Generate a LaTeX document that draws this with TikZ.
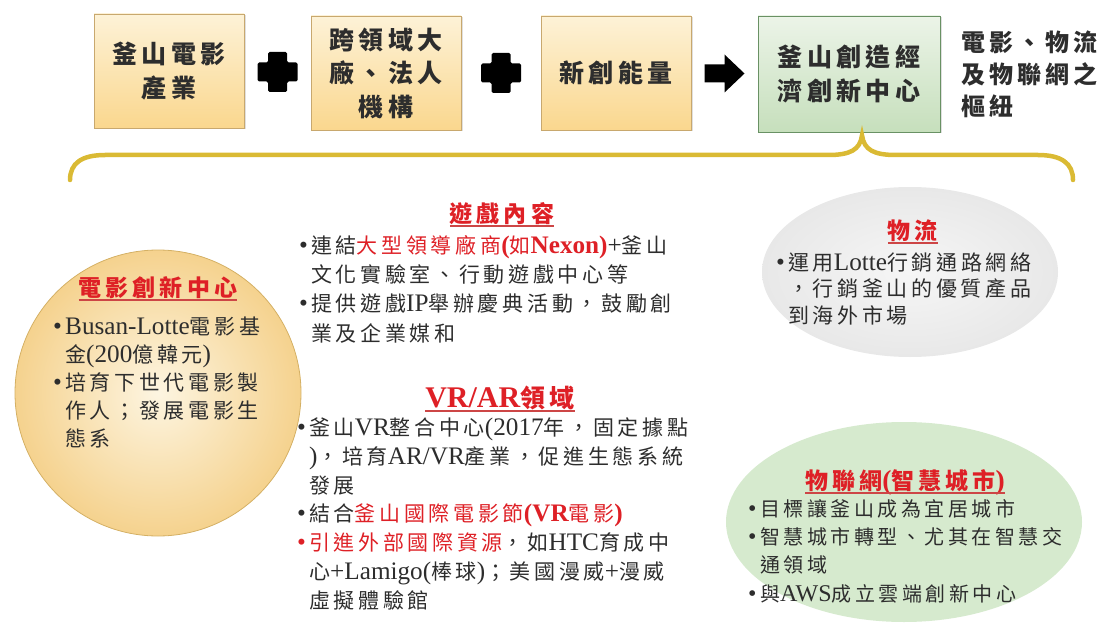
\documentclass[tikz,border=0pt]{standalone}
\usepackage{fontspec}
\setmainfont{Noto Sans CJK TC}[LetterSpace=17.5]
\newfontfamily\lat{Liberation Serif}[Scale=1.2]
\usetikzlibrary{shadows,shapes.geometric,calc}
\definecolor{txt}{RGB}{45,45,45}
\definecolor{red1}{RGB}{222,32,38}
\definecolor{ulred}{RGB}{205,70,70}
\definecolor{boxtop}{RGB}{253,242,215}
\definecolor{boxbot}{RGB}{250,215,142}
\definecolor{boxdraw}{RGB}{200,168,110}
\definecolor{gtop}{RGB}{236,244,232}
\definecolor{gbot}{RGB}{198,223,188}
\definecolor{gdraw}{RGB}{105,145,100}
\definecolor{bracecol}{RGB}{218,186,52}
\definecolor{circin}{RGB}{253,245,225}
\definecolor{circout}{RGB}{245,210,142}
\definecolor{circdraw}{RGB}{212,176,100}
\definecolor{grayin}{RGB}{246,246,246}
\definecolor{grayout}{RGB}{232,232,232}
\definecolor{greenell}{RGB}{214,234,206}
\newcommand\bl{\makebox[12pt][l]{\lat •}}
\newcommand\ind{\hspace*{12pt}}
\tikzset{
  topbox/.style={draw=boxdraw, line width=0.8pt, top color=boxtop, bottom color=boxbot,
    minimum width=150pt, minimum height=114pt, inner sep=0pt, align=center, text=txt,
    font=\fontsize{25}{33.5}\selectfont\bfseries,
    drop shadow={shadow xshift=1.5pt,shadow yshift=-1.5pt,opacity=0.25}},
  greenbox/.style={topbox, draw=gdraw, top color=gtop, bottom color=gbot, minimum width=182pt},
  ttl/.style={anchor=base, inner sep=0pt, text=red1, font=\fontsize{23}{28}\selectfont\bfseries},
  bodytxt/.style={anchor=base west, inner sep=0pt, align=left, text=txt, font=\fontsize{21}{29}\selectfont},
  ul/.style={draw=ulred, line width=1.3pt},
  plussign/.style={fill=black, rounded corners=1.5pt},
  bracestyle/.style={draw=bracecol, line width=4.5pt, line cap=round},
}
\begin{document}
\begin{tikzpicture}[x=1pt,y=-1pt]
\useasboundingbox (0,0) rectangle (1103,623);
% ---------- top row ----------
\node[topbox] (b1) at (169,71) {釜山電影\\產業};
\node[topbox] (b2) at (386,73) {跨領域大\\廠、法人\\機構};
\node[topbox] (b3) at (616,73) {新創能量};
\node[greenbox, minimum height=116pt] (b4) at (849,74) {釜山創造經\\濟創新中心};
\node[anchor=base west, inner sep=0pt, align=left, text=txt,
  font=\fontsize{24}{32}\selectfont\bfseries] (hub) at (961,116) {電影、物流\\及物聯網之\\樞紐};
\coordinate (p1) at ($(b1.east)!0.5!(b2.west)$);
\coordinate (p2) at ($(b2.east)!0.5!(b3.west)$);
\coordinate (a1) at ($(b3.east)!0.5!(b4.west)$);
\foreach \p in {p1,p2}{
  \fill[plussign] (\p) ++(-9.5,-20) -- ++(19,0) -- ++(0,10.5) -- ++(10.5,0) -- ++(0,19) -- ++(-10.5,0)
     -- ++(0,10.5) -- ++(-19,0) -- ++(0,-10.5) -- ++(-10.5,0) -- ++(0,-19) -- ++(10.5,0) -- cycle;
}
\fill[black] (a1) ++(-20,-9) -- ++(20,0) -- ++(0,-10) -- ++(20,19) -- ++(-20,19) -- ++(0,-10) -- ++(-20,0) -- cycle;
% ---------- brace ----------
\coordinate (tip) at ([xshift=13pt,yshift=-3pt]b4.south);
\draw[bracestyle] (70,180) .. controls (70,163) and (82,155) .. (105,155) -- (828,155)
  .. controls (850,155) and (860,150) .. (tip)
  .. controls (864,150) and (874,155) .. (896,155) -- (1038,155)
  .. controls (1061,155) and (1073,163) .. (1073,180);
% ---------- shapes ----------
\node[circle, minimum size=286pt, inner sep=0pt, draw=circdraw, line width=0.8pt,
  inner color=circin, outer color=circout] (film) at (158,393) {};
\node[ellipse, minimum width=296pt, minimum height=170pt, inner sep=0pt,
  inner color=grayin, outer color=grayout] (logi) at (910,272) {};
\node[ellipse, minimum width=356pt, minimum height=200pt, inner sep=0pt,
  fill=greenell] (iot) at (904,522) {};
% ---------- film circle text ----------
\node[ttl] (t1) at (158,296) {電影創新中心};
\draw[ul] ([yshift=-4pt]t1.base west) -- ([yshift=-4pt]t1.base east);
\node[bodytxt, font=\fontsize{21}{28}\selectfont] (x1) at (53,446) {\bl{\lat Busan-Lotte}電影基\\
\ind 金{\lat (200}億韓元{\lat )}\\
\bl 培育下世代電影製\\
\ind 作人；發展電影生\\
\ind 態系};
% ---------- game ----------
\node[ttl] (t2) at (502,222) {遊戲內容};
\draw[ul] ([yshift=-4pt]t2.base west) -- ([yshift=-4pt]t2.base east);
\node[bodytxt, font=\fontsize{21}{29.3}\selectfont] (x2) at (299,341) {\bl 連結{\color{red1}大型領導廠商{\lat\bfseries (}如{\lat\bfseries Nexon)}}{\lat +}釜山\\
\ind 文化實驗室、行動遊戲中心等\\
\bl 提供遊戲{\lat IP}舉辦慶典活動，鼓勵創\\
\ind 業及企業媒和};
% ---------- VR/AR ----------
\node[ttl, font=\fontsize{25}{30}\selectfont\bfseries] (t3) at (500,407) {{\lat VR/AR}領域};
\draw[ul] ([yshift=-4pt]t3.base west) -- ([yshift=-4pt]t3.base east);
\node[bodytxt, font=\fontsize{21}{28.7}\selectfont] (x3) at (297,608) {\bl 釜山{\lat VR}整合中心{\lat (2017}年，固定據點\\
\ind{\lat )}，培育{\lat AR/VR}產業，促進生態系統\\
\ind 發展\\
\bl 結合{\color{red1}釜山國際電影節{\lat\bfseries (VR}電影{\lat\bfseries )}}\\
{\color{red1}\bl 引進外部國際資源}，如{\lat HTC}育成中\\
\ind 心{\lat +Lamigo(}棒球{\lat )}；美國漫威{\lat +}漫威\\
\ind 虛擬體驗館};
% ---------- logistics ----------
\node[ttl] (t4) at (913,239) {物流};
\draw[ul] ([yshift=-4pt]t4.base west) -- ([yshift=-4pt]t4.base east);
\node[bodytxt, font=\fontsize{21}{26.5}\selectfont] (x4) at (776,323) {\bl 運用{\lat Lotte}行銷通路網絡\\
\ind ，行銷釜山的優質產品\\
\ind 到海外市場};
% ---------- IoT ----------
\node[ttl] (t5) at (905,489) {物聯網{\lat\bfseries (}智慧城市{\lat\bfseries )}};
\draw[ul] ([yshift=-4pt]t5.base west) -- ([yshift=-4pt]t5.base east);
\node[bodytxt, font=\fontsize{20}{28.3}\selectfont] (x5) at (748,601) {\bl 目標讓釜山成為宜居城市\\
\bl 智慧城市轉型、尤其在智慧交\\
\ind 通領域\\
\bl 與{\lat AWS}成立雲端創新中心};
\end{tikzpicture}
\end{document}
